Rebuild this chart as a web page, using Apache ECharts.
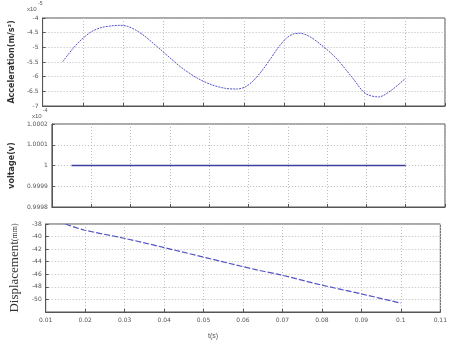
<!DOCTYPE html>
<html>
<head>
<meta charset="utf-8">
<script src="https://cdn.jsdelivr.net/npm/echarts@6/dist/echarts.min.js"></script>
<style>
  html, body { margin: 0; padding: 0; background: #fff; }
  #chart { width: 450px; height: 342px; }
</style>
</head>
<body>
<div id="chart"></div>
<script>
// time ticks (s)
const xTicks = ["0.01", "0.02", "0.03", "0.04", "0.05", "0.06", "0.07", "0.08", "0.09", "0.1", "0.11"];
const accTicks = ["-7", "-6.5", "-6", "-5.5", "-5", "-4.5", "-4"];
const voltTicks = ["0.9998", "0.9999", "1", "1.0001", "1.0002"];
const dispTicks = ["", "-50", "-48", "-46", "-44", "-42", "-40", "-38"];

// acceleration curve
const accT = [0.0150, 0.0173, 0.0197, 0.0221, 0.0245, 0.0270, 0.0292, 0.0310, 0.0330, 0.0352, 0.0374, 0.0395,
  0.0420, 0.0446, 0.0483, 0.0519, 0.0555, 0.0584, 0.0605, 0.0625, 0.0645, 0.0665, 0.0685, 0.0705, 0.0722,
  0.0740, 0.0762, 0.0789, 0.0829, 0.0870, 0.0902, 0.0935, 0.0967, 0.1000];
const accV = [-5.49, -5.08, -4.73, -4.47, -4.33, -4.27, -4.25, -4.28, -4.40, -4.60, -4.85, -5.10,
  -5.40, -5.70, -6.04, -6.27, -6.40, -6.42, -6.34, -6.12, -5.80, -5.42, -5.02, -4.70, -4.55,
  -4.52, -4.62, -4.88, -5.36, -6.04, -6.57, -6.69, -6.46, -6.08];

// voltage (constant)
const voltT = [0.015, 0.1];
const voltV = [1, 1];

// displacement
const dispT = [0.015, 0.0197, 0.0299, 0.0386, 0.0635, 0.0696, 0.0797, 0.0899, 0.1];
const dispV = [-38.0, -38.95, -40.27, -41.54, -45.30, -46.10, -47.68, -49.11, -50.59];

const zip = (a, b) => a.map((t, i) => [t, b[i]]);
const tickIdx = (v, min, step) => Math.round((v - min) / step);

const lab = { fontSize: 6, color: "#555", fontFamily: "DejaVu Sans" };
const gridLine = { show: true, lineStyle: { color: "#bbb", type: [1, 2], width: 1 } };
const axisLine = { show: true, lineStyle: { color: "#555", width: 1 } };
const tick = { show: true, inside: true, length: 3, lineStyle: { color: "#555" } };

function xAxis(gridIndex, showLabels) {
  return {
    type: "value", gridIndex, min: 0.01, max: 0.11, interval: 0.01,
    axisLine, axisTick: tick, splitLine: gridLine,
    axisLabel: showLabels
      ? { ...lab, margin: 5, formatter: (v) => xTicks[tickIdx(v, 0.01, 0.01)] || "" }
      : { show: false }
  };
}

function yAxis(gridIndex, min, max, step, labels, name, nameStyle, nameGap) {
  return {
    type: "value", gridIndex, min, max, interval: step,
    axisLine, axisTick: tick, splitLine: gridLine,
    axisLabel: { ...lab, margin: 4, formatter: (v) => labels[tickIdx(v, min, step)] ?? "" },
    name, nameLocation: "middle", nameRotate: 90, nameGap, nameTextStyle: nameStyle
  };
}

const chart = echarts.init(document.getElementById("chart"), null, { renderer: "canvas" });
chart.setOption({
  animation: false,
  backgroundColor: "#fff",
  grid: [
    { left: 32, right: 5, top: 18, height: 88, show: true, borderColor: "#555", borderWidth: 1 },
    { left: 32, right: 5, top: 124, height: 83, show: true, borderColor: "#555", borderWidth: 1 },
    { left: 32, right: 5, top: 224, height: 88, show: true, borderColor: "#555", borderWidth: 1 }
  ],
  xAxis: [xAxis(0, false), xAxis(1, false), xAxis(2, true)],
  yAxis: [
    yAxis(0, -7, -4, 0.5, accTicks, "Acceleration(m/s²)",
      { fontSize: 8, fontWeight: "bold", color: "#333", fontFamily: "DejaVu Sans" }, 17),
    yAxis(1, 0.9998, 1.0002, 0.0001, voltTicks, "voltage(v)",
      { fontSize: 8, fontWeight: "bold", color: "#333", fontFamily: "DejaVu Sans" }, 16),
    yAxis(2, -52, -38, 2, dispTicks, "{a|Displacement}{b|(mm)}",
      { color: "#333", rich: {
        a: { fontSize: 13, fontFamily: "Liberation Serif", color: "#333" },
        b: { fontSize: 8, fontFamily: "Liberation Serif", color: "#333" } } }, 13)
  ],
  graphic: [
    { type: "text", left: 27, top: 6, style: { text: "x10", fontSize: 6, fill: "#555" } },
    { type: "text", left: 38, top: 1, style: { text: "-5", fontSize: 5, fill: "#555" } },
    { type: "text", left: 32, top: 113, style: { text: "x10", fontSize: 6, fill: "#555" } },
    { type: "text", left: 43, top: 108, style: { text: "-4", fontSize: 5, fill: "#555" } },
    { type: "text", left: 208, top: 333, style: { text: "t(s)", fontSize: 7, fill: "#555" } }
  ],
  series: [
    { type: "line", xAxisIndex: 0, yAxisIndex: 0, data: zip(accT, accV), smooth: 0.3,
      showSymbol: false, lineStyle: { color: "#5353c8", width: 1, type: [2, 1] } },
    { type: "line", xAxisIndex: 1, yAxisIndex: 1, data: zip(voltT, voltV),
      showSymbol: false, lineStyle: { color: "#3f3fa0", width: 1.5 } },
    { type: "line", xAxisIndex: 2, yAxisIndex: 2, data: zip(dispT, dispV), smooth: 0.3,
      showSymbol: false, lineStyle: { color: "#5353c8", width: 1.2, type: [6, 2] } }
  ]
});
</script>
</body>
</html>
